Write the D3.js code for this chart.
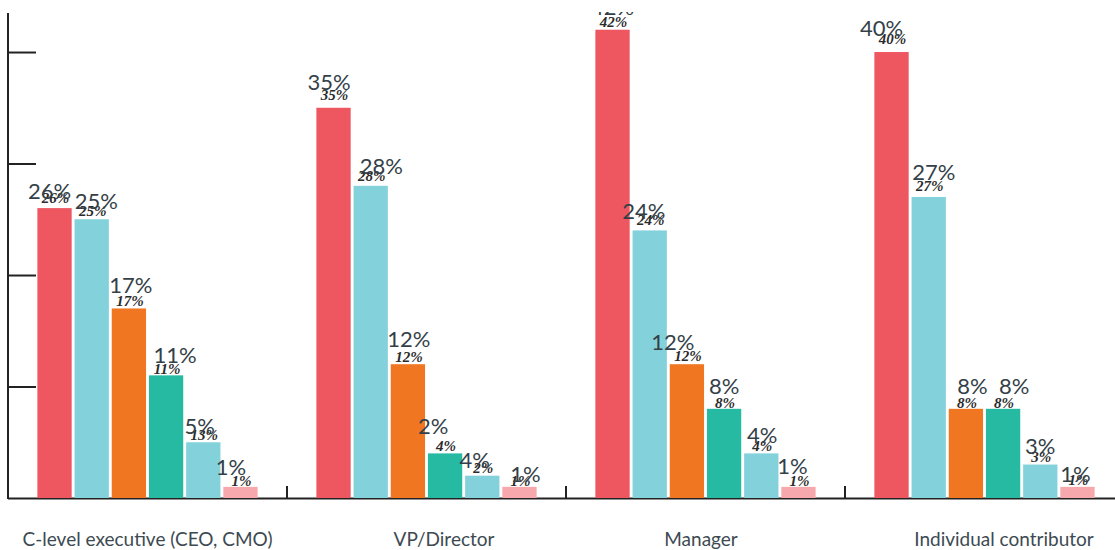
<!DOCTYPE html>
<html>
<head>
<meta charset="utf-8">
<script src="https://cdn.jsdelivr.net/npm/d3@7"></script>
<style>
  html, body { margin: 0; padding: 0; background: #fff; }
  svg { display: block; }
</style>
</head>
<body>
<svg id="chart" width="1115" height="550"></svg>
<script>
// ---- data ----
const categories = ["C-level executive (CEO, CMO)", "VP/Director", "Manager", "Individual contributor"];
const seriesIndex = [0, 1, 2, 3, 4, 5];
const seriesValues = [
  [26, 25, 17, 11, 5, 1],
  [35, 28, 12, 4, 2, 1],
  [42, 24, 12, 8, 4, 1],
  [40, 27, 8, 8, 3, 1]
];
const bigLabels = [
  ["26%", "25%", "17%", "11%", "5%", "1%"],
  ["35%", "28%", "12%", "2%", "4%", "1%"],
  ["42%", "24%", "12%", "8%", "4%", "1%"],
  ["40%", "27%", "8%", "8%", "3%", "1%"]
];
const smallLabels = [
  ["26%", "25%", "17%", "11%", "13%", "1%"],
  ["35%", "28%", "12%", "4%", "2%", "1%"],
  ["42%", "24%", "12%", "8%", "4%", "1%"],
  ["40%", "27%", "8%", "8%", "3%", "1%"]
];
const yTicks = [10, 20, 30, 40];

// ---- styling / layout ----
const colors = ["#EE5660", "#83D1DB", "#F07622", "#26BAA3", "#83D1DB", "#F6A8AD"];
// label nudges (dx, dy) for the large labels relative to bar centre / top
const bigNudge = [
  [[-5, -9], [4.5, -10], [2, -15], [9, -12], [-3.5, -8], [-9.5, -12]],
  [[-4.5, -18], [10.5, -12], [1, -17], [-12, -19], [-7.5, -8], [6, -5]],
  [[0, -15], [-6, -11], [-14, -14], [0, -15], [1, -10], [-6, -13]],
  [[-10, -16], [5, -17], [6.5, -15], [11, -15], [0, -11], [-2, -5]]
];
const smallNudge = [
  [-5, -3, -2, -1, -2, -1],
  [-8, -5, -2, -2, -3, -1],
  [-3, -5, -3, -1, -2, -1],
  [-8, -6, -1, -1, -3, -2]
];
const catShift = [0, 17.5, -4.5, 19.5];

const svg = d3.select("#chart");
const left = 8, baseY = 498, bandW = 279;

const x0 = d3.scaleBand().domain(categories).range([left, left + bandW * categories.length]).padding(0);
const x1 = d3.scaleBand().domain(seriesIndex).range([0, bandW]).paddingInner(0.078).paddingOuter(0.79);
const y = d3.scaleLinear().domain([0, 43.5]).range([baseY, 13]);

svg.append("defs").append("clipPath").attr("id", "plotClip")
  .append("rect").attr("x", 0).attr("y", 12).attr("width", 1115).attr("height", 538);

// baseline
svg.append("line")
  .attr("x1", left).attr("x2", 1115)
  .attr("y1", baseY + 0.5).attr("y2", baseY + 0.5)
  .attr("stroke", "#222").attr("stroke-width", 2);

// group separator ticks
svg.selectAll("line.gtick")
  .data(categories.slice(1))
  .join("line")
  .attr("class", "gtick")
  .attr("x1", d => x0(d)).attr("x2", d => x0(d))
  .attr("y1", baseY - 12).attr("y2", baseY + 1)
  .attr("stroke", "#222").attr("stroke-width", 2);

// left axis
const yAxis = d3.axisRight(y).tickValues(yTicks).tickSize(28).tickFormat("");
const ag = svg.append("g").attr("transform", `translate(${left},0)`).call(yAxis);
ag.select(".domain").attr("stroke", "#222").attr("stroke-width", 2)
  .attr("d", `M0,${y(43.5)}V${baseY + 1}`);
ag.selectAll(".tick line").attr("stroke", "#222").attr("stroke-width", 2);

// groups
const groups = svg.selectAll("g.grp")
  .data(categories)
  .join("g")
  .attr("class", "grp")
  .attr("clip-path", "url(#plotClip)")
  .attr("transform", d => `translate(${x0(d)},0)`);

groups.each(function (cat, gi) {
  const g = d3.select(this);
  const rows = seriesIndex.map(si => ({ si, v: seriesValues[gi][si] }));

  g.selectAll("rect")
    .data(rows)
    .join("rect")
    .attr("x", d => x1(d.si))
    .attr("width", x1.bandwidth())
    .attr("y", d => y(d.v))
    .attr("height", d => baseY - y(d.v))
    .attr("fill", d => colors[d.si]);

  g.selectAll("text.small")
    .data(rows)
    .join("text")
    .attr("class", "small")
    .attr("x", d => x1(d.si) + x1.bandwidth() / 2 + 1)
    .attr("y", d => y(d.v) + smallNudge[gi][d.si])
    .attr("text-anchor", "middle")
    .attr("font-family", "'Liberation Serif', 'DejaVu Serif', serif")
    .attr("font-style", "italic")
    .attr("font-weight", "bold")
    .attr("font-size", 15)
    .attr("fill", "#2b2b2b")
    .text(d => smallLabels[gi][d.si]);

  g.selectAll("text.big")
    .data(rows)
    .join("text")
    .attr("class", "big")
    .attr("x", d => x1(d.si) + x1.bandwidth() / 2 + bigNudge[gi][d.si][0])
    .attr("y", d => y(d.v) + bigNudge[gi][d.si][1])
    .attr("text-anchor", "middle")
    .attr("font-family", "Lato, 'Open Sans', sans-serif")
    .attr("font-size", 22)
    .attr("fill", "#343f48")
    .text(d => bigLabels[gi][d.si]);
});

// category labels
svg.selectAll("text.cat")
  .data(categories)
  .join("text")
  .attr("class", "cat")
  .attr("x", (d, i) => x0(d) + bandW / 2 + catShift[i])
  .attr("y", 546)
  .attr("text-anchor", "middle")
  .attr("font-family", "Lato, 'Open Sans', sans-serif")
  .attr("font-size", 19)
  .attr("fill", "#3d4a52")
  .text(d => d);
</script>
</body>
</html>
